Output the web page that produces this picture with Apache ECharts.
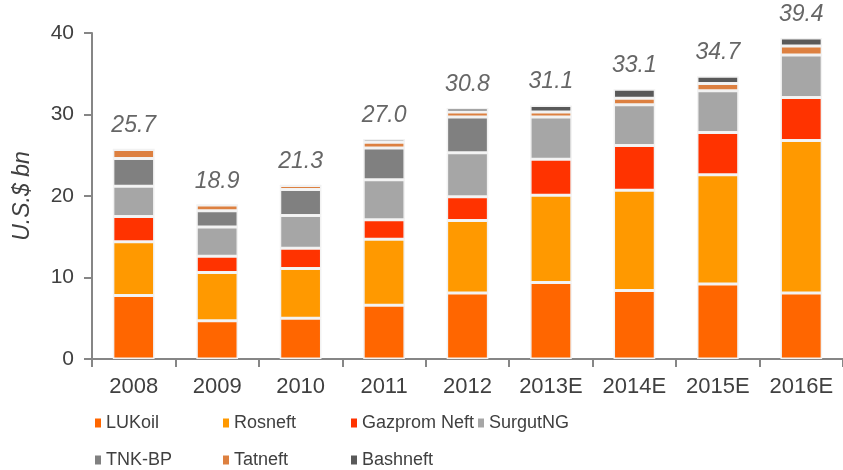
<!DOCTYPE html>
<html>
<head>
<meta charset="utf-8">
<script src="https://cdn.jsdelivr.net/npm/echarts@6/dist/echarts.min.js"></script>
<style>
  html, body { margin: 0; padding: 0; background: #fff; }
  #main { width: 843px; height: 470px; }
</style>
</head>
<body>
<div id="main"></div>
<script>
// 年份
const years = ["2008", "2009", "2010", "2011", "2012", "2013E", "2014E", "2015E", "2016E"];
// 各公司數值 (U.S.$ bn)
const lukoil   = [7.8, 4.7, 5.0, 6.6, 8.1, 9.4, 8.4, 9.2, 8.1];
const rosneft  = [6.6, 5.9, 6.1, 8.1, 8.9, 10.7, 12.3, 13.4, 18.7];
const gazprom  = [3.1, 2.0, 2.5, 2.4, 2.9, 4.4, 5.5, 5.2, 5.3];
const surgut   = [3.7, 3.6, 4.0, 4.9, 5.4, 5.2, 5.0, 5.1, 5.2];
const tnkbp    = [3.4, 2.0, 3.2, 3.9, 4.4, 0, 0, 0, 0];
const tatneft  = [1.1, 0.7, 0.5, 0.7, 0.6, 0.6, 0.8, 0.9, 1.1];
const bashneft = [0, 0, 0, 0.4, 0.5, 0.8, 1.1, 0.9, 1.0];
// 總數標籤
const totals = [25.7, 18.9, 21.3, 27.0, 30.8, 31.1, 33.1, 34.7, 39.4];
const yTicks = [0, 10, 20, 30, 40];

const names = ["LUKoil", "Rosneft", "Gazprom Neft", "SurgutNG", "TNK-BP", "Tatneft", "Bashneft"];
const colors = ["#FF6600", "#FF9900", "#FF3300", "#A6A6A6", "#808080", "#DD8040", "#595959"];
const values = [lukoil, rosneft, gazprom, surgut, tnkbp, tatneft, bashneft];

const FONT = "Liberation Sans, Arial, sans-serif";
const TEXT = "#404040";

const chart = echarts.init(document.getElementById("main"));

let series = names.map((n, i) => ({
  name: n,
  type: "bar",
  stack: "total",
  barWidth: "50%",
  data: values[i],
  itemStyle: { color: colors[i], borderColor: "#f2f2f2", borderWidth: 1.5 }
}));

// 總數標籤用 scatter
series.push({
  type: "scatter",
  data: totals,
  symbolSize: 0,
  silent: true,
  label: {
    show: true,
    position: "top",
    distance: 12,
    formatter: (p) => p.value.toFixed(1),
    fontFamily: FONT,
    fontStyle: "italic",
    fontSize: 23,
    color: TEXT
  }
});

// 圖例：每項一個，兩行
const legendLeft = [95, 223, 351, 478, 95, 223, 351];
const legendTop = [414, 414, 414, 414, 451, 451, 451];
const legends = names.map((n, i) => ({
  data: [n],
  left: legendLeft[i],
  top: legendTop[i],
  padding: 0,
  itemWidth: 6,
  itemHeight: 9,
  icon: "rect",
  selectedMode: false,
  itemStyle: { borderWidth: 0 },
  textStyle: { fontFamily: FONT, fontSize: 18, lineHeight: 18, color: TEXT }
}));

chart.setOption({
  animation: false,
  legend: legends,
  grid: { left: 92, top: 33, width: 756, height: 326 },
  xAxis: {
    type: "category",
    data: years,
    axisLine: { lineStyle: { color: "#868686", width: 2 } },
    axisTick: { show: true, length: 8, lineStyle: { color: "#868686", width: 2 } },
    axisLabel: { interval: 0, fontFamily: FONT, fontSize: 22, color: TEXT, margin: 17 }
  },
  yAxis: {
    type: "value",
    min: yTicks[0],
    max: yTicks[yTicks.length - 1],
    interval: 10,
    name: "U.S.$ bn",
    nameLocation: "middle",
    nameGap: 58,
    nameTextStyle: { fontFamily: FONT, fontStyle: "italic", fontSize: 23, color: TEXT },
    splitLine: { show: false },
    axisLine: { show: true, lineStyle: { color: "#868686", width: 2 } },
    axisTick: { show: true, length: 8, lineStyle: { color: "#868686", width: 2 } },
    axisLabel: { fontFamily: FONT, fontSize: 21, color: TEXT, margin: 18 }
  },
  series: series
});
</script>
</body>
</html>
